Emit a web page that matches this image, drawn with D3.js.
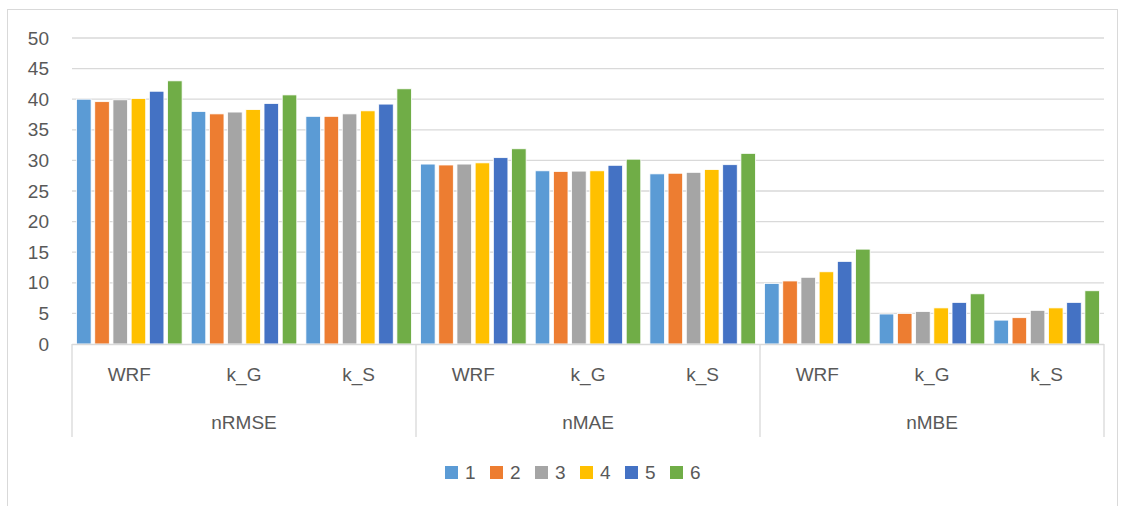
<!DOCTYPE html>
<html>
<head>
<meta charset="utf-8">
<script src="https://cdn.jsdelivr.net/npm/d3@7"></script>
<style>
  body { margin: 0; background: #fff; }
  text { font-family: "Liberation Sans", Arial, sans-serif; fill: #595959; }
</style>
</head>
<body>
<div id="chart"></div>
<script>
// metric groups and the sub-categories inside each
const groups = ["nRMSE", "nMAE", "nMBE"];
const subs = ["WRF", "k_G", "k_S"];
const series = ["1", "2", "3", "4", "5", "6"];
const colors = ["#5B9BD5", "#ED7D31", "#A5A5A5", "#FFC000", "#4472C4", "#70AD47"];
const yTicks = [0, 5, 10, 15, 20, 25, 30, 35, 40, 45, 50];

// values per series, in order nRMSE(WRF,k_G,k_S), nMAE(...), nMBE(...)
const s1 = [40.0, 38.0, 37.2, 29.4, 28.3, 27.8, 9.9, 4.9, 3.9];
const s2 = [39.6, 37.6, 37.2, 29.25, 28.2, 27.9, 10.3, 5.0, 4.3];
const s3 = [39.9, 37.9, 37.6, 29.4, 28.25, 28.05, 10.9, 5.3, 5.5];
const s4 = [40.1, 38.3, 38.1, 29.6, 28.3, 28.5, 11.8, 5.9, 5.9];
const s5 = [41.3, 39.3, 39.2, 30.45, 29.2, 29.3, 13.5, 6.8, 6.8];
const s6 = [43.0, 40.7, 41.7, 31.9, 30.2, 31.15, 15.5, 8.2, 8.7];
const seriesValues = [s1, s2, s3, s4, s5, s6];

const width = 1125, height = 506;
const plot = { left: 72, right: 1104, top: 38, bottom: 344 };
const fontSize = "19px";

const svg = d3.select("#chart").append("svg")
    .attr("width", width)
    .attr("height", height);

// chart frame
svg.append("rect")
    .attr("x", 7.5).attr("y", 9.5)
    .attr("width", 1110).attr("height", 520)
    .attr("fill", "none")
    .attr("stroke", "#D9D9D9");

const cats = [];
groups.forEach(g => subs.forEach(s => cats.push(g + "|" + s)));

const x0 = d3.scaleBand().domain(cats).range([plot.left, plot.right]);
const xg = d3.scaleBand().domain(groups).range([plot.left, plot.right]);
const x1 = d3.scaleBand().domain(series).range([0, x0.bandwidth()])
    .paddingInner(0.2).paddingOuter(0.25);
const y = d3.scaleLinear().domain([0, 50]).range([plot.bottom, plot.top]);

// gridlines
svg.append("g")
    .selectAll("line")
    .data(yTicks.filter(d => d > 0))
    .enter().append("line")
    .attr("x1", plot.left).attr("x2", plot.right)
    .attr("y1", d => y(d)).attr("y2", d => y(d))
    .attr("stroke", "#D9D9D9")
    .attr("stroke-width", 1.3);

// y axis labels
const yAxis = d3.axisLeft(y).tickValues(yTicks).tickSize(0).tickPadding(23);
const yg = svg.append("g").attr("transform", `translate(${plot.left},0)`).call(yAxis);
yg.select(".domain").remove();
yg.selectAll("text")
    .style("font-size", fontSize)
    .style("fill", "#595959")
    .style("font-family", "Liberation Sans, Arial, sans-serif");

// bars
const rows = [];
cats.forEach((c, i) => series.forEach((s, j) => rows.push({ cat: c, s: s, v: seriesValues[j][i], color: colors[j] })));

svg.append("g")
    .selectAll("rect")
    .data(rows)
    .enter().append("rect")
    .attr("x", d => x0(d.cat) + x1(d.s))
    .attr("y", d => y(d.v))
    .attr("width", x1.bandwidth())
    .attr("height", d => y(0) - y(d.v))
    .attr("fill", d => d.color)
    .attr("stroke", "#fff")
    .attr("stroke-width", 0.8);

// category axis
const axisColor = "#D9D9D9";
svg.append("line")
    .attr("x1", plot.left).attr("x2", plot.right)
    .attr("y1", plot.bottom + 0.5).attr("y2", plot.bottom + 0.5)
    .attr("stroke", axisColor).attr("stroke-width", 1.3);

const seps = groups.map(g => xg(g)).concat([plot.right]);
svg.append("g")
    .selectAll("line")
    .data(seps)
    .enter().append("line")
    .attr("x1", d => d).attr("x2", d => d)
    .attr("y1", plot.bottom).attr("y2", 437)
    .attr("stroke", axisColor).attr("stroke-width", 1.3);

svg.append("g")
    .selectAll("text")
    .data(cats)
    .enter().append("text")
    .attr("x", d => x0(d) + x0.bandwidth() / 2)
    .attr("y", 381)
    .attr("text-anchor", "middle")
    .style("font-size", fontSize)
    .text(d => d.split("|")[1]);

svg.append("g")
    .selectAll("text")
    .data(groups)
    .enter().append("text")
    .attr("x", d => xg(d) + xg.bandwidth() / 2)
    .attr("y", 429)
    .attr("text-anchor", "middle")
    .style("font-size", fontSize)
    .text(d => d);

// legend
const legend = svg.append("g").attr("transform", "translate(445,466)");
const item = legend.selectAll("g")
    .data(series)
    .enter().append("g")
    .attr("transform", (d, i) => `translate(${i * 45},0)`);
item.append("rect")
    .attr("width", 13).attr("height", 13)
    .attr("fill", (d, i) => colors[i]);
item.append("text")
    .attr("x", 20).attr("y", 13)
    .style("font-size", fontSize)
    .text(d => d);
</script>
</body>
</html>
